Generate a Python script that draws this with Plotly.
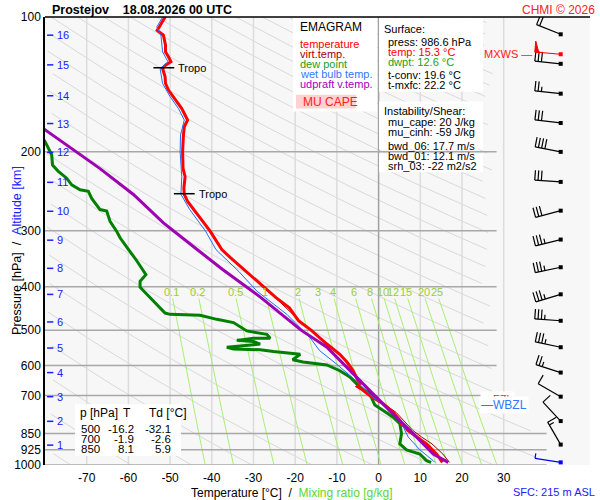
import numpy as np
import plotly.graph_objects as go

# --- sounding (p in hPa, temperatures in deg C) ---
temp_p = [100, 102.6, 105.3, 107.1, 109.8, 115.6, 119.6, 122.7, 125.9, 128.1, 130.3, 136, 140.7,
          145.6, 150.6, 154.6, 160.1, 169.8, 175.8, 183.4, 199.6, 217.6, 227.3, 241, 248.8, 258,
          269, 280.8, 300.6, 330.5, 344, 379, 400, 423, 446, 476, 500, 537, 566, 589, 616, 650,
          660, 668, 680, 702, 730, 763, 794, 812, 820, 837, 866, 897, 945, 986.6]
temp_t = [-51.2, -52.0, -52.6, -53.1, -51.6, -51.1, -51.1, -50.4, -49.8, -51.1, -51.8, -51.2, -51.1,
          -50.4, -49.2, -48.3, -47.2, -45.8, -46.6, -46.8, -47.0, -46.9, -46.4, -46.7, -46.6, -45.8,
          -44.4, -42.8, -40.4, -37.6, -35.6, -30.6, -27.6, -24.6, -21.4, -19.2, -16.2, -12.4, -9.3,
          -7.6, -6.1, -4.9, -4.5, -5.1, -3.8, -1.9, 1.1, 3.5, 5.1, 5.4, 6.2, 7.0, 9.1, 11.5, 13.9, 15.3]

virt_p = [400, 476, 537, 589, 650, 702, 763, 812, 837, 866, 897, 945, 986.6]
virt_t = [-27.5, -19.0, -12.2, -7.3, -4.5, -1.4, 4.2, 6.8, 8.2, 10.3, 12.8, 15.4, 17.0]

dewp_p = [188, 193, 203, 214, 221, 229, 237, 243, 245, 254, 269, 271, 286, 301, 311, 330, 350,
          376, 389, 401, 430, 458, 461, 463, 473, 481, 502, 511, 521, 521, 527, 530, 537, 546,
          551, 553, 558, 566, 582, 589, 598, 616, 636, 670, 694, 735, 756, 782, 809, 851, 897,
          925, 945, 978, 986.6]
dewp_t = [-80.2, -79.6, -78.4, -78.2, -76.8, -74.8, -73.6, -71.6, -69.6, -68.8, -66.8, -65.2,
          -64.4, -62.8, -62.0, -60.0, -58.0, -55.8, -57.2, -57.2, -54.0, -51.2, -50.0, -42.8,
          -38.8, -34.8, -31.6, -26.8, -26.0, -30.0, -34.0, -30.0, -28.4, -36.4, -34.8, -28.4,
          -25.2, -18.8, -20.6, -18.1, -12.4, -9.3, -6.9, -4.5, -2.1, -0.9, 1.1, 3.5, 5.1, 5.5,
          5.1, 6.7, 9.9, 11.5, 12.6]

wetb_p = [100, 105.3, 109.8, 119.6, 125.9, 130.3, 140.7, 150.6, 160.1, 169.8, 183.4, 199.6, 227.3,
          248.8, 269, 300.6, 330.5, 370, 409, 461, 519, 556, 595, 650, 707, 741, 782, 822, 866,
          925, 978, 986.6]
wetb_t = [-51.8, -53.2, -52.2, -51.8, -50.5, -52.4, -51.8, -50.0, -48.0, -46.6, -47.5, -47.6,
          -47.2, -47.4, -45.3, -41.5, -39.0, -33.5, -29.2, -22.0, -16.5, -14.1, -10.1, -5.3, -1.3,
          1.9, 4.3, 5.9, 7.1, 9.9, 13.1, 13.5]

updr_p = [178, 193, 218, 249, 288, 330, 366, 423, 500, 546, 606, 682, 770, 851, 945, 986.6]
updr_t = [-80.2, -74.8, -66.8, -58.8, -51.6, -43.6, -37.4, -28.2, -18.6, -12.4, -7.6, -2.1, 3.5,
          8.3, 13.1, 16.7]

tropo_p = [129.8, 248.0]
tropo_t = [-51.5, -46.6]

alt_km = list(range(1, 17))
alt_p = [902.9, 798.9, 703.9, 621.9, 548.2, 479.4, 416.1, 363.9, 314.9, 271.4, 233.9, 200.6,
         172.9, 149.9, 127.9, 109.8]

mix_ratio = [0.1, 0.2, 0.5, 1, 2, 3, 4, 6, 8, 10, 12, 15, 20, 25]

wind_p = [109.3, 127.2, 148.3, 172.4, 200.0, 233.4, 270.6, 313.9, 361.9, 415.9, 476.5, 545.9,
          621.8, 703.8, 797.9, 900.4, 986.6]
wind_dir = [292, 276, 276, 277, 281, 274, 255, 256, 258, 253, 274, 282, 288, 300, 317, 330, 279]
wind_spd = [20, 30, 25, 30, 40, 30, 30, 35, 35, 35, 35, 35, 25, 10, 10, 15, 5]
mxws_p, mxws_dir, mxws_spd = 121.1, 275, 50

table_p = ["500", "700", "850"]
table_t = ["-16.2", "-1.9", "8.1"]
table_td = ["-32.1", "-2.6", "5.9"]

isobars = [200, 300, 400, 500, 600, 700, 850, 925, 1000]
isotherms = list(range(-70, 40, 10))

# --- geometry of the figure ---
W, H = 600, 500
ML, MR, MT, MB = 45, 10, 15, 35
PW, PH = W - ML - MR, H - MT - MB
XMIN, XMAX = -80, 50.7
FONT = "Liberation Sans, Arial, sans-serif"


def px(x):
    return (x - ML) / PW


def py(y):
    return 1 - (y - MT) / PH


def to_data(x, y):
    t = XMIN + (x - ML) / PW * (XMAX - XMIN)
    p = 10 ** (2 + (y - MT) / PH)
    return t, p


def p_to_y(p):
    return MT + PH * (np.log10(p) - 2)


fig = go.Figure()

# dry adiabats
pg = np.logspace(2, 3, 80)
ax, ay = [], []
for theta in np.arange(271.8 - 14.5 * 7, 760, 14.5):
    t = theta * (pg / 1000) ** 0.36 - 273.15
    tmax = np.where(pg < 800, 27.5, 39.5)
    ok = (t >= -80) & (t <= tmax)
    if ok.sum() < 2:
        continue
    ax += list(t[ok]) + [None]
    ay += list(pg[ok]) + [None]
fig.add_trace(go.Scatter(x=ax, y=ay, mode="lines", line=dict(color="#d9d9d9", width=1),
                         hoverinfo="skip"))

# isotherms
for t in isotherms:
    fig.add_trace(go.Scatter(x=[t, t], y=[100, 1000], mode="lines", hoverinfo="skip",
                             line=dict(color="#a0a0a0" if t == 0 else "#dcdcdc", width=1.5)))


# mixing ratio lines
def t_sat(w, p):
    e = w * p / (622.0 + w)
    a = np.log(e / 6.112)
    return 243.5 * a / (17.67 - a)


pm = np.linspace(425, 1000, 30)
mx, my = [], []
for w in mix_ratio:
    mx += list(t_sat(w, pm)) + [None]
    my += list(pm) + [None]
fig.add_trace(go.Scatter(x=mx, y=my, mode="lines", line=dict(color="#a8f070", width=1),
                         hoverinfo="skip"))

# isobars
for p in isobars:
    fig.add_trace(go.Scatter(x=[-80, 40.3 if p >= 850 else 28.3], y=[p, p], mode="lines",
                             line=dict(color="#a8a8a8", width=1.5), hoverinfo="skip"))

# sounding curves
fig.add_trace(go.Scatter(x=dewp_t, y=dewp_p, mode="lines", line=dict(color="#008000", width=3)))
fig.add_trace(go.Scatter(x=virt_t, y=virt_p, mode="lines", line=dict(color="#a00000", width=1)))
fig.add_trace(go.Scatter(x=temp_t, y=temp_p, mode="lines", line=dict(color="#ff0000", width=3)))
fig.add_trace(go.Scatter(x=wetb_t, y=wetb_p, mode="lines", line=dict(color="#1e6eff", width=1)))
fig.add_trace(go.Scatter(x=updr_t, y=updr_p, mode="lines", line=dict(color="#a000b4", width=3)))

# tropopause marks
for p, t in zip(tropo_p, tropo_t):
    fig.add_trace(go.Scatter(x=[t - 2.5, t + 2.5], y=[p, p], mode="lines",
                             line=dict(color="black", width=1.5)))

# altitude ticks
kx, ky = [], []
for p in alt_p:
    kx += [-79.5, -78.0, None]
    ky += [p, p, None]
fig.add_trace(go.Scatter(x=kx, y=ky, mode="lines", line=dict(color="#2020ff", width=1.5)))


# wind barbs
def barb(p, d, spd, color):
    bx, by = 560.7, p_to_y(p)
    rad = np.radians(d)
    ux, uy = np.sin(rad), -np.cos(rad)          # screen unit vector base -> tip
    vx, vy = -uy, ux                             # barb direction (clockwise side)
    tipx, tipy = bx + 26 * ux, by + 26 * uy
    xs = [to_data(bx, by)[0], to_data(tipx, tipy)[0], None]
    ys = [p, to_data(tipx, tipy)[1], None]
    fills = []
    n50, rest = divmod(spd, 50)
    n10, rest = divmod(rest, 10)
    pos = 0.0
    for _ in range(n50):
        a = (tipx - pos * ux, tipy - pos * uy)
        b = (a[0] + 11 * vx, a[1] + 11 * vy)
        c = (a[0] - 4 * ux, a[1] - 4 * uy)
        fills.append([to_data(*q) for q in (a, b, c, a)])
        pos += 5
    for _ in range(n10):
        a = (tipx - pos * ux, tipy - pos * uy)
        b = (a[0] + 10 * vx, a[1] + 10 * vy)
        for q in (a, b):
            t, pp = to_data(*q)
            xs.append(t)
            ys.append(pp)
        xs.append(None)
        ys.append(None)
        pos += 3.3
    if rest >= 5:
        a = (tipx - pos * ux, tipy - pos * uy)
        b = (a[0] + 5 * vx, a[1] + 5 * vy)
        for q in (a, b):
            t, pp = to_data(*q)
            xs.append(t)
            ys.append(pp)
        xs.append(None)
        ys.append(None)
    fig.add_trace(go.Scatter(x=xs, y=ys, mode="lines", line=dict(color=color, width=1.2)))
    for f in fills:
        fig.add_trace(go.Scatter(x=[q[0] for q in f], y=[q[1] for q in f], mode="lines",
                                 fill="toself", fillcolor=color, line=dict(color=color, width=1)))
    fig.add_trace(go.Scatter(x=[to_data(bx, by)[0]], y=[p], mode="markers",
                             marker=dict(symbol="square", size=4, color=color)))


for i, (p, d, s) in enumerate(zip(wind_p, wind_dir, wind_spd)):
    barb(p, d, s, "#0000ff" if i == len(wind_p) - 1 else "black")
barb(mxws_p, mxws_dir, mxws_spd, "#ff0000")

# --- boxes ---
shapes = [
    dict(type="line", xref="paper", yref="paper", x0=0, x1=1, y0=1, y1=1,
         line=dict(color="black", width=1.5)),
    dict(type="rect", xref="paper", yref="paper", x0=px(293), x1=px(377), y0=py(110), y1=py(16),
         fillcolor="white", line_width=0, layer="above"),
    dict(type="rect", xref="paper", yref="paper", x0=px(296), x1=px(356), y0=py(107), y1=py(93),
         fillcolor="#ffd2d2", line_width=0, layer="above"),
    dict(type="rect", xref="paper", yref="paper", x0=px(379), x1=px(483), y0=py(90), y1=py(16),
         fillcolor="white", line_width=0, layer="above"),
    dict(type="rect", xref="paper", yref="paper", x0=px(379), x1=px(483), y0=py(148), y1=py(100),
         fillcolor="white", line_width=0, layer="above"),
    dict(type="rect", xref="paper", yref="paper", x0=px(379), x1=px(483), y0=py(171), y1=py(152),
         fillcolor="white", line_width=0, layer="above"),
    dict(type="rect", xref="paper", yref="paper", x0=px(75), x1=px(181), y0=py(456), y1=py(404),
         fillcolor="white", line_width=0, layer="above"),
]

ann = []


def text(x, y, s, color="black", size=11, anchor="left", **kw):
    ann.append(dict(x=px(x), y=py(y), xref="paper", yref="paper", text=s, showarrow=False,
                    xanchor=anchor, yanchor="middle", font=dict(family=FONT, size=size,
                                                                color=color), **kw))


text(50, 7.5, "<b>Prostejov\u00a0\u00a0\u00a0\u00a018.08.2026 00 UTC</b>", size=12.5)
text(597, 7.5, "CHMI © 2026", color="#ff2020", size=12, anchor="right")
text(298, 25.5, "EMAGRAM", size=12)
for i, (s, c) in enumerate([("temperature", "#ff0000"), ("virt.temp.", "#a00000"),
                            ("dew point", "#22a022"), ("wet bulb temp.", "#3377ff"),
                            ("udpraft v.temp.", "#a000c0")]):
    text(298, 42 + 10 * i, s, color=c)
text(301, 100.5, "MU CAPE", color="#ff2020", size=12)

text(382, 27, "Surface:")
for i, (s, c) in enumerate([("press: 986.6 hPa", "black"), ("temp: 15.3 °C", "#ff0000"),
                            ("dwpt: 12.6 °C", "#22a022")]):
    text(386, 40 + 10 * i, s, color=c)
text(386, 73, "t-conv: 19.6 °C")
text(386, 83, "t-mxfc: 22.2 °C")
text(382, 109, "Instability/Shear:")
text(386, 120, "mu_cape: 20 J/kg")
text(386, 130.5, "mu_cinh: -59 J/kg")
text(386, 145, "bwd_06: 17.7 m/s")
text(386, 155, "bwd_01: 12.1 m/s")
text(386, 165, "srh_03: -22 m2/s2")

text(78, 413, "p [hPa]", size=12)
text(127, 413, "T", size=12, anchor="center")
text(147, 413, "Td [°C]", size=12)
for i in range(3):
    text(102, 429 + 10 * i, table_p[i], size=11.5, anchor="right")
    text(136, 429 + 10 * i, table_t[i], size=11.5, anchor="right")
    text(173, 429 + 10 * i, table_td[i], size=11.5, anchor="right")

text(534, 52.3, "MXWS \u2014", color="#ff2020", size=11, anchor="right")
text(480, 399, "\u2014FZL", color="#ff2020", size=11, bgcolor="white")
text(479, 405, "\u2014WBZL", color="#3377ff", size=12, bgcolor="white")
text(597, 492, "SFC: 215 m ASL", color="#2020ff", size=11, anchor="right")

text(292, 493, "Temperature [°C]\u00a0\u00a0/\u00a0\u00a0"
     "<span style='color:#5cd62c'>Mixing ratio [g/kg]</span>", size=12, anchor="center")
ann.append(dict(x=px(8), y=py(250), xref="paper", yref="paper", showarrow=False, textangle=-90,
                text="Pressure [hPa]\u00a0\u00a0/\u00a0\u00a0<span style='color:#2020ff'>Altitude [km]</span>",
                font=dict(family=FONT, size=12.5, color="black")))

# data-anchored labels
for km, p in zip(alt_km, alt_p):
    ann.append(dict(x=px(55), y=np.log10(p), xref="paper", yref="y", text=str(km), showarrow=False,
                    xanchor="left", yanchor="middle", font=dict(family=FONT, size=11,
                                                                color="#2020ff")))
for w in mix_ratio:
    ann.append(dict(x=t_sat(w, 415.0), y=np.log10(412.0), xref="x", yref="y",
                    text=("%g" % w), showarrow=False, xanchor="center", yanchor="middle",
                    font=dict(family=FONT, size=11, color="#9acd32")))
for p, t in zip(tropo_p, tropo_t):
    ann.append(dict(x=t + 3.0, y=np.log10(p), xref="x", yref="y", text="Tropo", showarrow=False,
                    xanchor="left", yanchor="middle", font=dict(family=FONT, size=11,
                                                                color="black")))

fig.update_layout(
    width=W, height=H, margin=dict(l=ML, r=MR, t=MT, b=MB),
    paper_bgcolor="white", plot_bgcolor="#f7f7f7", showlegend=False,
    font=dict(family=FONT, size=12, color="black"),
    shapes=shapes, annotations=ann,
    xaxis=dict(range=[XMIN, XMAX], showgrid=False, zeroline=False, showline=False,
               tickvals=isotherms, ticktext=[str(t) for t in isotherms], ticks="",
               ticklabelstandoff=4, tickfont=dict(size=12), fixedrange=True),
    yaxis=dict(type="log", range=[3, 2], showgrid=False, zeroline=False, showline=True,
               linecolor="black", linewidth=1.5, tickvals=isobars + [100],
               ticktext=[str(p) for p in isobars] + ["100"], ticks="",
               tickfont=dict(size=12), fixedrange=True),
)

# the page keeps the browser's default body margin otherwise
fig.write_html("out.html", config={"displayModeBar": False},
               post_script="document.body.style.margin='0';")
